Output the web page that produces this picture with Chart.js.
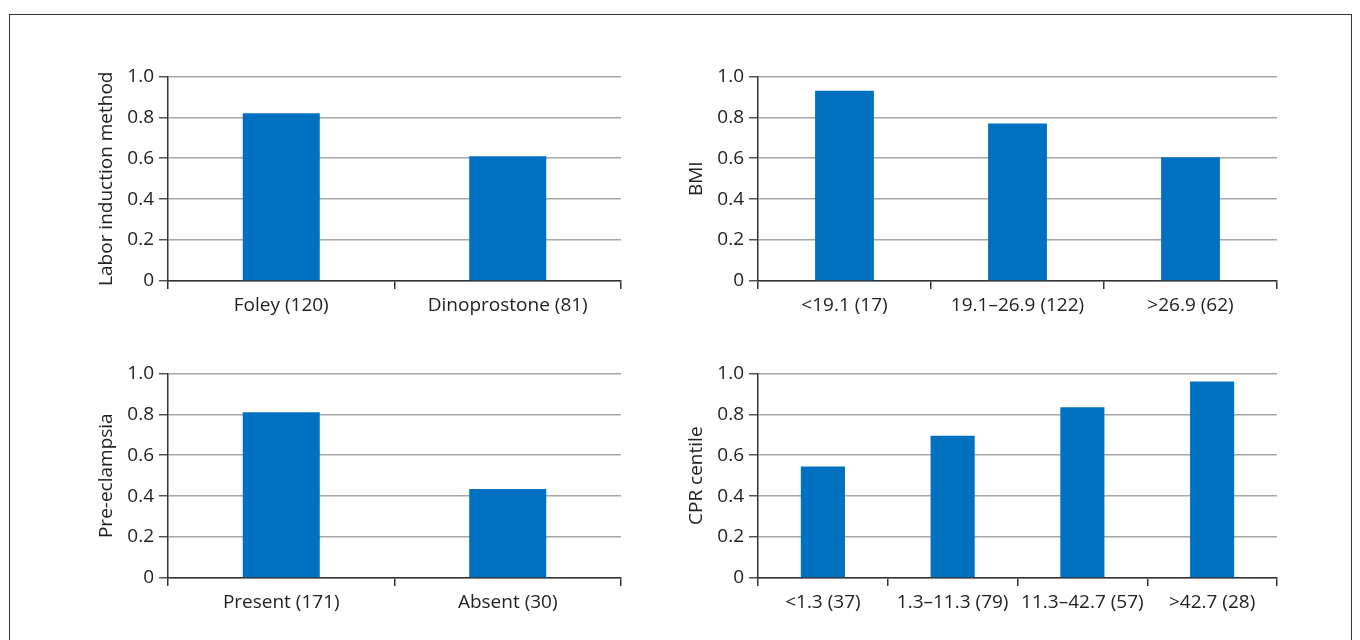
<!DOCTYPE html>
<html>
<head>
<meta charset="utf-8">
<script src="https://cdn.jsdelivr.net/npm/chart.js@4/dist/chart.umd.min.js"></script>
<style>
  body { margin: 0; background: #fff; width: 1360px; height: 640px; overflow: hidden; position: relative; }
  #frame { position: absolute; left: 9px; top: 14px; width: 1341px; height: 700px; border: 1px solid #333; }
  canvas { position: absolute; }
</style>
</head>
<body>
<div id="frame"></div>
<canvas id="c1"></canvas>
<canvas id="c2"></canvas>
<canvas id="c3"></canvas>
<canvas id="c4"></canvas>
<script>
// data
const inductionLabels = ['Foley (120)', 'Dinoprostone (81)'];
const inductionValues = [0.82, 0.61];

const bmiLabels = ['<19.1 (17)', '19.1–26.9 (122)', '>26.9 (62)'];
const bmiValues = [0.93, 0.77, 0.605];

const preeclampsiaLabels = ['Present (171)', 'Absent (30)'];
const preeclampsiaValues = [0.81, 0.435];

const cprLabels = ['<1.3 (37)', '1.3–11.3 (79)', '11.3–42.7 (57)', '>42.7 (28)'];
const cprValues = [0.545, 0.695, 0.835, 0.96];

const yTicks = [0, 0.2, 0.4, 0.6, 0.8, 1.0];

const FONT = '"Open Sans", "Noto Sans", sans-serif';
const TXT = '#222';

function panel(id, labels, values, title, axisX, right, top, bottom) {
  const cv = document.getElementById(id);
  const left = axisX - 88;
  const w = right + 18 - left;
  const h = bottom + 48 - (top - 16);
  cv.style.left = left + 'px';
  cv.style.top = (top - 16) + 'px';
  cv.width = w;
  cv.height = h;
  return new Chart(cv.getContext('2d'), {
    type: 'bar',
    data: {
      labels: labels,
      datasets: [{
        data: values,
        backgroundColor: '#0070C0',
        borderWidth: 0,
        categoryPercentage: 1,
        barPercentage: 0.34
      }]
    },
    options: {
      responsive: false,
      animation: false,
      layout: { padding: { top: 16, right: 18, left: 0, bottom: 0 } },
      plugins: { legend: { display: false }, tooltip: { enabled: false } },
      scales: {
        x: {
          afterFit: s => { s.height = 48; },
          grid: { drawOnChartArea: false, drawTicks: true, tickLength: 8, color: '#333', lineWidth: 1.5 },
          border: { color: '#333', width: 1.5 },
          ticks: { color: TXT, font: { family: FONT, size: 19 }, padding: 5, maxRotation: 0, autoSkip: false }
        },
        y: {
          min: 0,
          max: 1,
          afterFit: s => { s.width = 88; },
          afterBuildTicks: s => { s.ticks = yTicks.map(v => ({ value: v })); },
          grid: { color: '#a6a6a6', tickColor: '#555', lineWidth: 1.5, tickLength: 9 },
          border: { color: '#333', width: 1.5 },
          ticks: {
            color: TXT,
            font: { family: FONT, size: 19 },
            padding: 5,
            callback: v => v === 0 ? '0' : v.toFixed(1)
          },
          title: {
            display: true,
            text: title,
            color: TXT,
            font: { family: FONT, size: 19 },
            padding: { top: 15, bottom: 0 }
          }
        }
      }
    }
  });
}

panel('c1', inductionLabels, inductionValues, 'Labor induction method', 168, 621, 76, 281);
panel('c2', bmiLabels, bmiValues, 'BMI', 758, 1277, 76, 281);
panel('c3', preeclampsiaLabels, preeclampsiaValues, 'Pre-eclampsia', 168, 621, 373, 578);
panel('c4', cprLabels, cprValues, 'CPR centile', 758, 1277, 373, 578);
</script>
</body>
</html>
